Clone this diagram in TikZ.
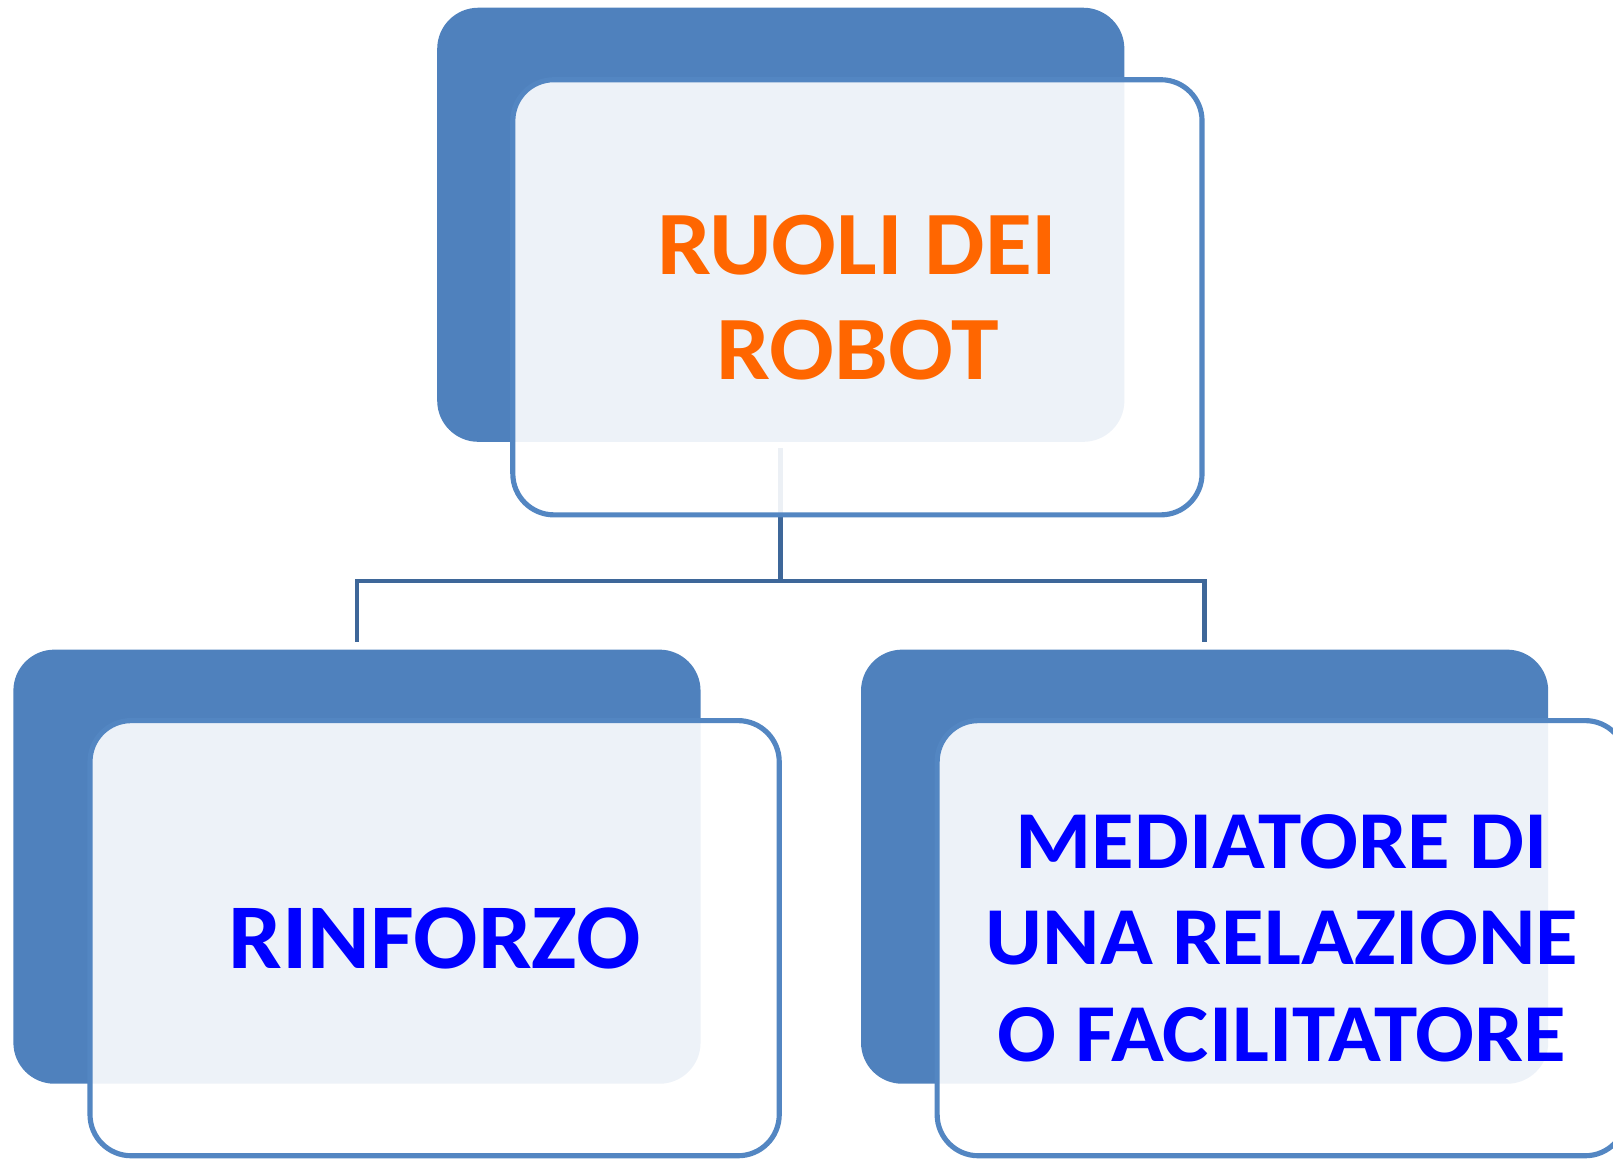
\documentclass[tikz,border=0pt]{standalone}
\usepackage{fontspec}
\setmainfont{Carlito}
\definecolor{dblue}{HTML}{4F81BD}
\definecolor{fblue}{HTML}{5386C2}
\definecolor{cblue}{HTML}{3E6799}
\definecolor{torange}{HTML}{FF6600}
\definecolor{tblue}{HTML}{0000FF}
\tikzset{
  darkbox/.style={fill=dblue, draw=none, rounded corners=40pt, minimum width=668pt, minimum height=422pt, inner sep=0pt},
  frontbox/.style={fill=white, fill opacity=0.9, text opacity=1, draw=fblue, draw opacity=1, line width=5pt,
    rounded corners=40pt, minimum width=670pt, minimum height=423pt, inner sep=0pt, align=center},
  conn/.style={draw=cblue, line width=4.5pt},
}
\begin{document}
\begin{tikzpicture}[x=1pt,y=-1pt]
\useasboundingbox (0,0) rectangle (1568,1126);
% back boxes
\node[darkbox] (d1) at (759,218.5) {};
\node[darkbox] (d2) at (347,842.5) {};
\node[darkbox] (d3) at (1171,842.5) {};
% connectors
\draw[conn, shorten <=6pt, shorten >=7pt] (d1.south) -- ++(0,135) -| (d2.north);
\draw[conn, shorten >=7pt] (d1.south) ++(0,135) -| (d3.north);
% front boxes
\node[frontbox, text=torange, font=\bfseries\addfontfeatures{FakeStretch=1.06}\fontsize{88}{102}\selectfont] (f1) at (833.5,289) {RUOLI DEI\\ROBOT};
\node[frontbox, text=tblue, font=\bfseries\addfontfeatures{FakeStretch=1.03}\fontsize{90}{104}\selectfont] (f2) at (422.5,912) {RINFORZO};
\node[frontbox, text=tblue, font=\bfseries\addfontfeatures{FakeStretch=1.06}\fontsize{80}{93.5}\selectfont] (f3) at (1246,912) {MEDIATORE DI\\UNA RELAZIONE\\O FACILITATORE};
\end{tikzpicture}
\end{document}
